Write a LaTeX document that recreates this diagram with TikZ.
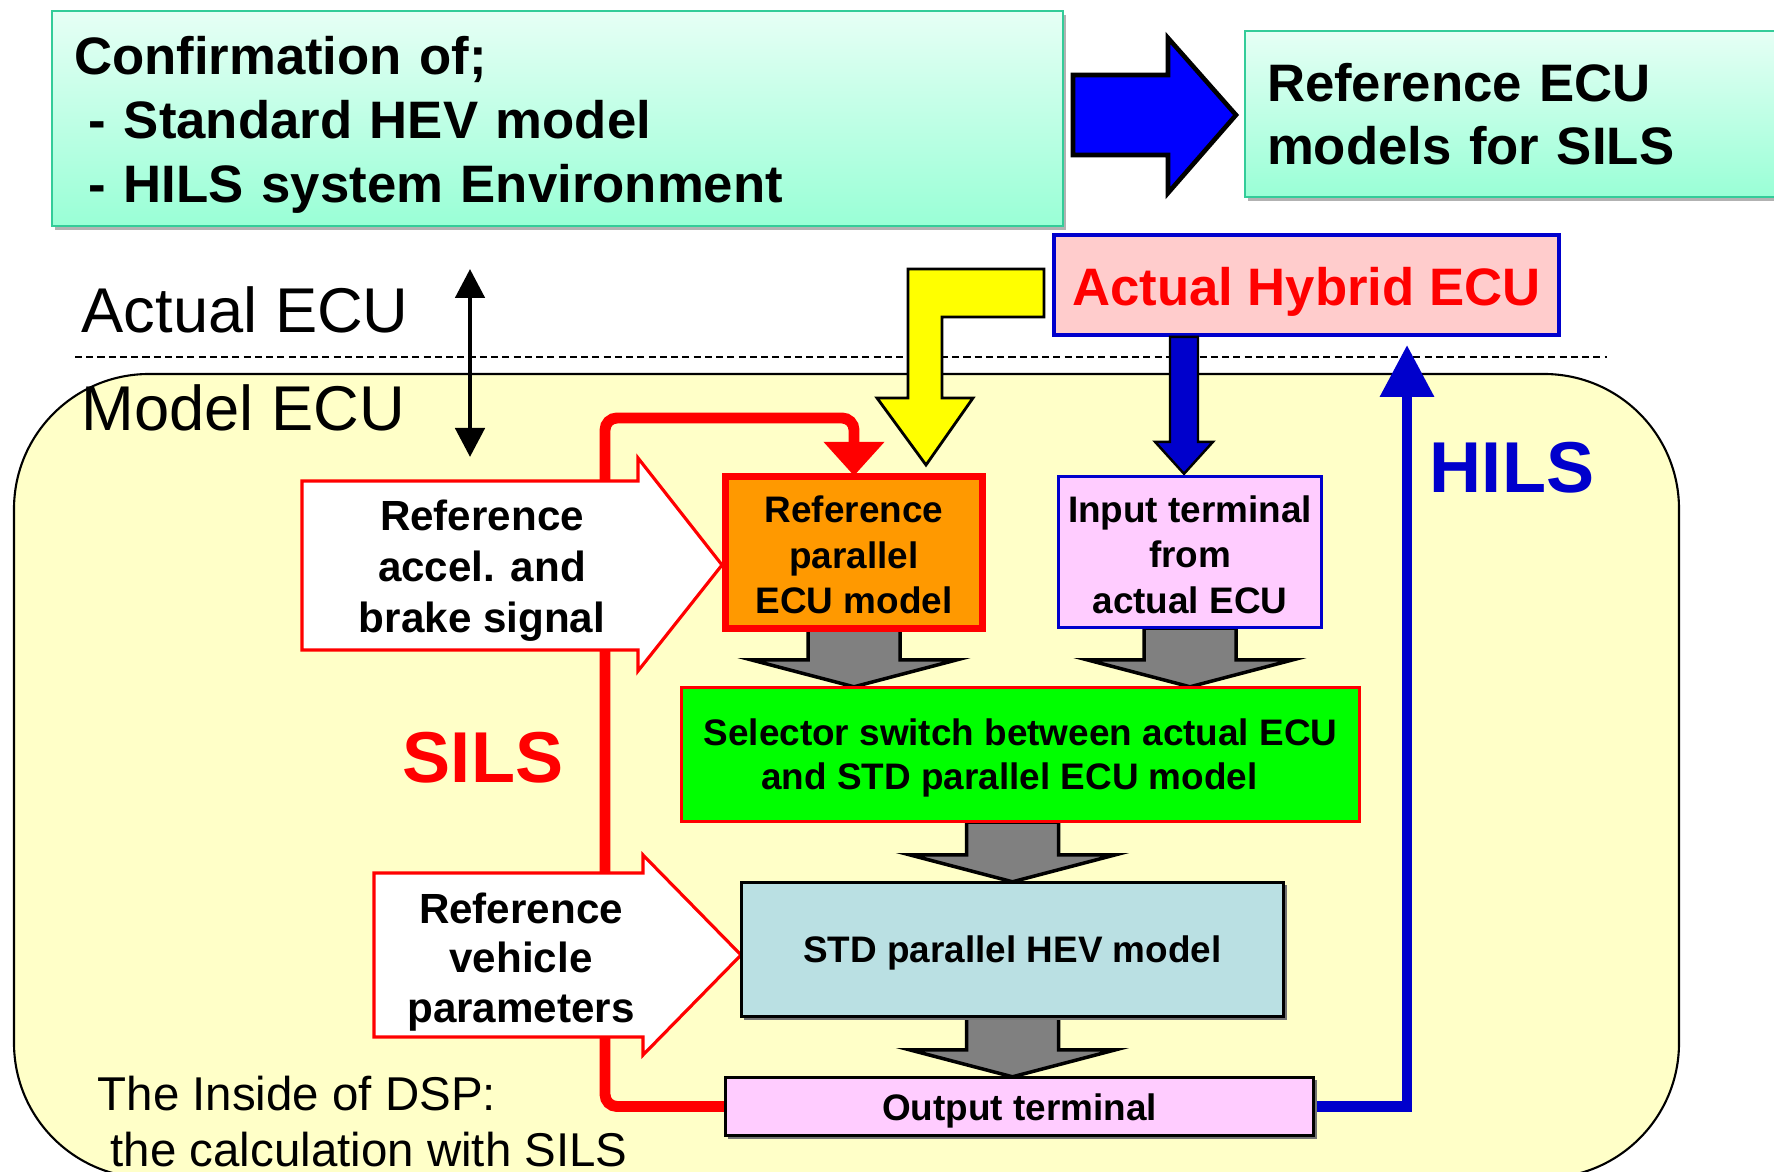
\documentclass[tikz,border=0pt]{standalone}
\usepackage{fontspec}
\setmainfont{Liberation Sans}
\usetikzlibrary{arrows.meta,calc}
\definecolor{bgY}{HTML}{FFFFC8}
\definecolor{tealB}{HTML}{33CC99}
\definecolor{aqTop}{HTML}{E6FFF5}
\definecolor{aqBot}{HTML}{99FFD6}
\definecolor{oranF}{HTML}{FF9900}
\definecolor{pinkB}{HTML}{FFCCFF}
\definecolor{pinkR}{HTML}{FFCCCC}
\definecolor{greenS}{HTML}{00FF00}
\definecolor{stdB}{HTML}{BAE0E3}
\definecolor{darkB}{HTML}{0000CC}
\definecolor{pureB}{HTML}{0000FF}
\definecolor{redR}{HTML}{FF0000}
\definecolor{grayA}{HTML}{808080}
\definecolor{yelA}{HTML}{FFFF00}
\newcommand\myfs[2]{\fontsize{#1}{#2}\selectfont}
\newcommand\garrow[2]{%
  \coordinate (gT) at #1; \coordinate (gB) at #2;
  \draw[grayarr] ($(gT)+(-46,0)$) -- ($(gT)+(46,0)$) -- ($(gB)+(46,-27)$) -- ($(gB)+(103,-27)$) -- (gB) -- ($(gB)+(-103,-27)$) -- ($(gB)+(-46,-27)$) -- cycle;}
\tikzset{
  box/.style={inner sep=0pt, align=center},
  smallbold/.style={font=\myfs{10.5}{12.9}\bfseries},
  grayarr/.style={fill=grayA, draw=black, line width=1pt, line join=miter},
  whitearr/.style={fill=white, draw=redR, line width=0.9pt, line join=miter},
  sils/.style={draw=redR, line width=3.1pt, rounded corners=1.2mm, -{Triangle[width=5.9mm,length=3.4mm]}},
  hils/.style={draw=darkB, line width=2.85pt, -{Triangle[width=5.2mm,length=5.2mm]}},
  shadowbox/.style={fill=black!55, draw=none}
}
\begin{document}
\begin{tikzpicture}[x=0.1mm,y=-0.1mm]
\useasboundingbox (0,0) rectangle (1774,1172);

% model region
\draw[fill=bgY, line width=0.6pt, rounded corners=13.5mm] (14,374) rectangle (1679,1178);
\draw[dash pattern=on 2pt off 1.2pt, line width=0.45pt] (75,357) -- (1607,357);

% top row
\fill[gray!60] (55,15) rectangle (1066,230);
\node[box, top color=aqTop, bottom color=aqBot, draw=tealB, line width=0.7pt,
  minimum width=101.1mm, minimum height=21.5mm] (conf) at (557.5,118.5) {};
\node[box, text width=96.7mm, align=left, font=\myfs{15}{18.2}\bfseries, yshift=-0.65mm] (confT) at (conf)
  {Confirmation of;\\\hspace*{4.2pt}- Standard HEV model\\\hspace*{4.2pt}- HILS system Environment};
\fill[gray!60] (1248,35) rectangle (1800,201);
\node[box, top color=aqTop, bottom color=aqBot, draw=tealB, line width=0.7pt,
  minimum width=55.5mm, minimum height=16.6mm] (refecu) at (1522.5,114) {};
\node[box, text width=51.1mm, align=left, font=\myfs{15}{17.9}\bfseries] (refecuT) at (refecu)
  {Reference ECU\\models for SILS};
\draw[fill=pureB, draw=black, line width=1.3pt, line join=miter]
  (1073,75) -- (1168,75) -- (1168,38) -- (1236,115) -- (1168,193) -- (1168,155) -- (1073,155) -- cycle;

% actual hybrid ECU
\node[box, fill=pinkR, draw=darkB, line width=1.1pt, minimum width=50.5mm, minimum height=10mm] (ahe) at (1306.5,285) {};
\node[box, text=redR, font=\myfs{15}{18}\bfseries, yshift=-0.7mm] (aheT) at (ahe) {Actual Hybrid ECU};

% labels left
\node[anchor=base west, inner sep=0pt, font=\myfs{18}{21}] (actl) at (81,333) {Actual ECU};
\node[anchor=base west, inner sep=0pt, font=\myfs{18}{21}] (modl) at (81,431) {Model ECU};
\coordinate (ua) at (470,269);
\coordinate (la) at (470,457);
\draw[line width=1.4pt, {Triangle[width=2.9mm,length=2.9mm]}-{Triangle[width=2.9mm,length=2.9mm]}] (ua) -- (la);

% boxes (defined first for anchors)
\path node[box, minimum width=25.7mm, minimum height=15.2mm] (rpe) at (854,552.5) {}
      node[box, minimum width=26.3mm, minimum height=15.1mm] (inp) at (1190,552) {}
      node[box, minimum width=67.8mm, minimum height=13.4mm] (sel) at (1020.5,754.5) {}
      node[box, minimum width=54.2mm, minimum height=13.4mm] (std) at (1012.5,949.5) {}
      node[box, minimum width=58.8mm, minimum height=5.8mm] (out) at (1019.5,1106.5) {};

% SILS loop and HILS line
\coordinate (hilsTop) at (1407,345);
\draw[sils] (out.west) -| (605,418) -| (rpe.north);
\draw[hils] (out.east) -| (hilsTop);

% white input arrows
\draw[whitearr] (302,481) -- (638,481) -- (638,458) -- (722,565) -- (638,671) -- (638,650) -- (302,650) -- cycle;
\node[box, font=\myfs{12}{14.5}\bfseries] (acc) at (482,571) {Reference\\accel. and\\brake signal};
\draw[whitearr] (374,873) -- (643,873) -- (643,855) -- (741,955) -- (643,1055) -- (643,1037) -- (374,1037) -- cycle;
\node[box, font=\myfs{12}{14.2}\bfseries] (veh) at (521,962) {Reference\\vehicle\\parameters};

% gray arrows
\garrow{(rpe.south)}{(rpe.south |- sel.north)}
\garrow{(inp.south)}{(inp.south |- sel.north)}
\garrow{(sel.south -| std.north)}{(std.north)}
\garrow{(std.south)}{(std.south |- out.north)}

% yellow arrow
\draw[fill=yelA, draw=black, line width=0.8pt, line join=miter]
  (1044,269) -- (1044,317) -- (942,317) -- (942,398) -- (973,398) -- (926,465) -- (877,398) -- (908,398) -- (908,269) -- cycle;

% blue arrow actual ECU -> input terminal
\coordinate (bB) at ($(inp.north)+(-6,-2)$);
\coordinate (bT) at (bB |- ahe.south);
\draw[fill=darkB, draw=black, line width=0.7pt, line join=miter]
  ($(bT)+(-14,0)$) -- ($(bT)+(14,0)$) -- ($(bB)+(14,-32)$) -- ($(bB)+(29,-32)$) -- (bB)
  -- ($(bB)+(-29,-32)$) -- ($(bB)+(-14,-32)$) -- cycle;

% visible boxes
\node[box, fill=oranF, draw=redR, line width=2pt, minimum width=25.7mm, minimum height=15.2mm] at (rpe) {};
\node[box, smallbold, yshift=-0.25mm] (rpeT) at (rpe) {Reference\\parallel\\ECU model};
\node[box, fill=pinkB, draw=darkB, line width=0.9pt, minimum width=26.3mm, minimum height=15.1mm] at (inp) {};
\node[box, smallbold, yshift=-0.25mm] (inpT) at (inp) {Input terminal\\from\\actual ECU};
\node[box, fill=greenS, draw=redR, line width=0.9pt, minimum width=67.8mm, minimum height=13.4mm] at (sel) {};
\node[box, font=\myfs{10.5}{12.3}\bfseries, yshift=-0.35mm] (selT) at (sel)
  {Selector switch between actual ECU\\and STD parallel ECU model\hspace*{2.2mm}};
\fill[shadowbox] ($(std.south west)+(3,3)$) rectangle ($(std.north east)+(3,3)$);
\node[box, fill=stdB, draw=black, line width=0.9pt, minimum width=54.2mm, minimum height=13.4mm] at (std) {};
\node[box, smallbold, yshift=-0.35mm] (stdT) at (std) {STD parallel HEV model};
\fill[shadowbox] ($(out.south west)+(3,3)$) rectangle ($(out.north east)+(3,3)$);
\node[box, fill=pinkB, draw=black, line width=0.9pt, minimum width=58.8mm, minimum height=5.8mm] at (out) {};
\node[box, smallbold, yshift=-0.45mm] (outT) at (out) {Output terminal};

% big labels
\node[anchor=base, inner sep=0pt, text=redR, font=\myfs{20.5}{24}\bfseries] (silsl) at (483,783) {SILS};
\node[anchor=base, inner sep=0pt, text=darkB, font=\myfs{20.5}{24}\bfseries] (hilsl) at (1512,493) {HILS};

% DSP note
\node[anchor=base west, inner sep=0pt, font=\myfs{13.5}{17.6}] (dsp1) at (97,1110) {The Inside of DSP:};
\node[anchor=base west, inner sep=0pt, font=\myfs{13.5}{17.6}] (dsp2) at (110,1166) {the calculation with SILS};
\end{tikzpicture}
\end{document}
